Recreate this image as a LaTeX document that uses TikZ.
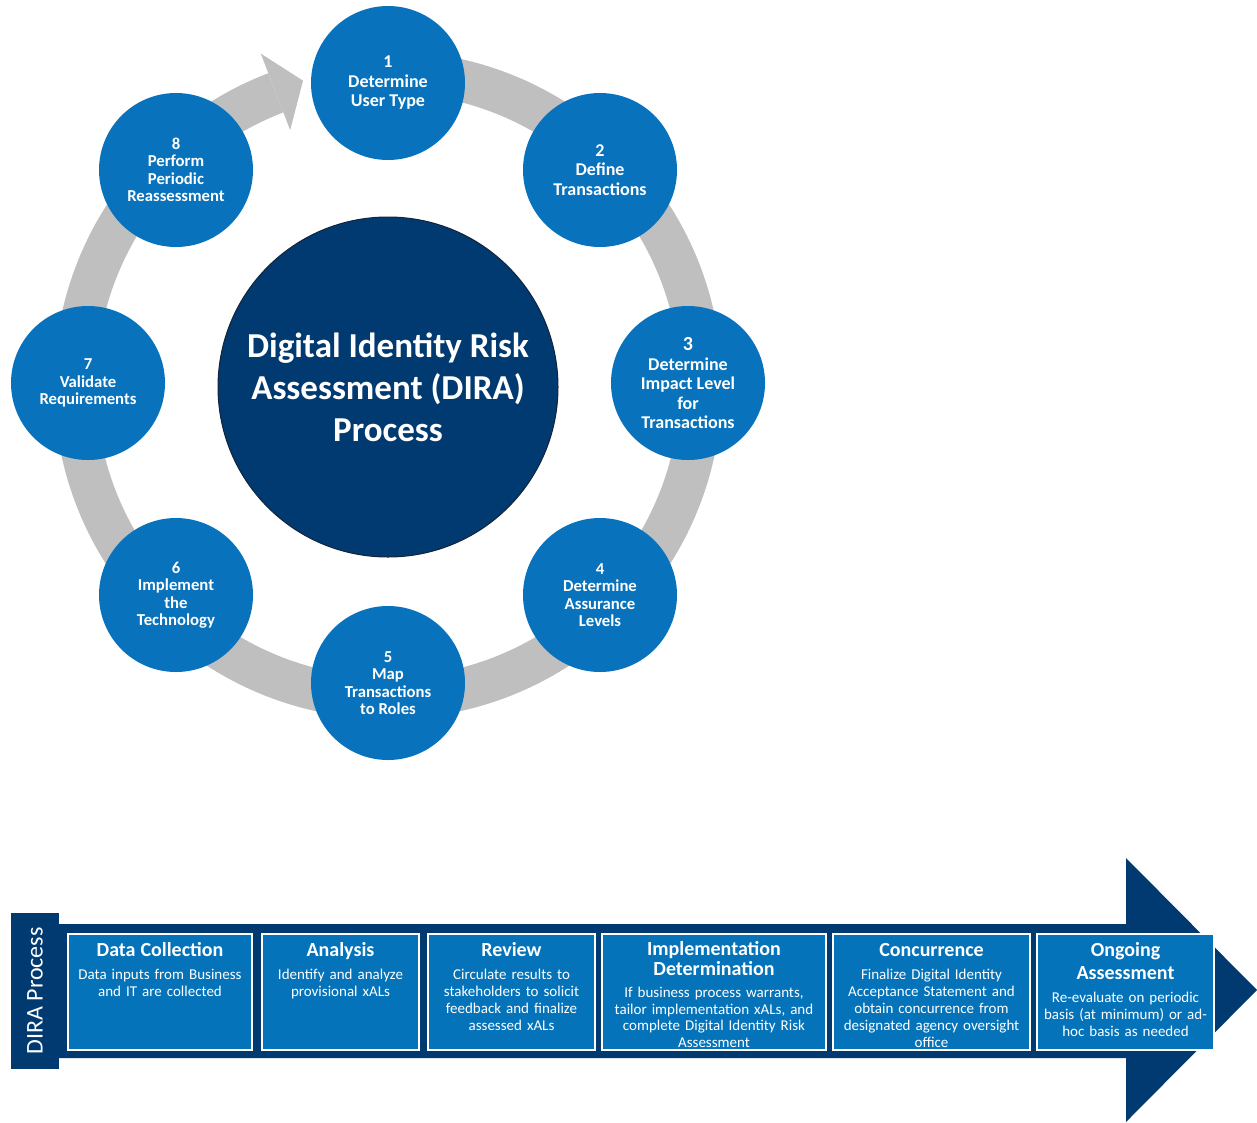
\documentclass[tikz,border=0pt]{standalone}
\usepackage{fontspec}
\setmainfont{Carlito}
\usepackage{xcolor}
\usepackage{tikz}
\usetikzlibrary{calc}

\definecolor{stageblue}{RGB}{8,114,188}
\definecolor{hubnavy}{RGB}{0,58,112}
\definecolor{hubedge}{RGB}{20,35,60}
\definecolor{ringgray}{RGB}{191,191,191}
\definecolor{boxblue}{RGB}{4,115,186}
\definecolor{arrownavy}{RGB}{0,58,112}

\newcommand{\phasetitle}[2][20]{{\fontsize{20}{#1}\selectfont\bfseries #2\par}\vspace{6pt}}

\begin{document}
\begin{tikzpicture}[x=1pt,y=-1pt,
                    stage node/.style={circle,fill=stageblue,minimum size=154pt,inner sep=0pt,text=white,align=center,font=\fontsize{18}{19.5}\selectfont\bfseries},
                    small stage/.style={stage node,font=\fontsize{16.7}{17.5}\selectfont\bfseries},
                    hub node/.style={circle,fill=hubnavy,draw=hubedge,line width=1pt,minimum size=340pt,inner sep=0pt,text=white,align=center,font=\fontsize{35}{42}\selectfont\bfseries},
                    ring/.style={draw=ringgray,line width=42pt},
                    tab node/.style={rectangle,fill=arrownavy,rotate=90,minimum width=156pt,minimum height=48pt,inner sep=0pt,text=white,font=\fontsize{24}{24}\selectfont},
                    phase node/.style={rectangle,fill=boxblue,draw=white,line width=2.5pt,minimum height=116pt,inner sep=0pt},
                    phase text/.style={anchor=base,align=center,inner sep=0pt,text=white,font=\fontsize{15}{17}\selectfont}]

 \useasboundingbox (0,0) rectangle (1257,1122);

 \coordinate (centre) at (388,385);

 \draw[ring] ($(centre)+(90:313pt)$) arc[start angle=90,end angle=-249,radius=313pt];
 \fill[ringgray] ($(centre)+(111:355pt)$) -- ($(centre)+(105.6:316pt)$) -- ($(centre)+(111:273pt)$) -- cycle;

 \node[hub node] (hub) at (388,387) {Digital Identity Risk\\Assessment (DIRA)\\Process};

 \node[stage node] (1) at (388,83) {1\\Determine\\User Type};

 \node[stage node] (2) at (600,170) {2\\Define\\Transactions};

 \node[stage node] (3) at (688,383) {{\fontsize{20}{20}\selectfont 3}\\Determine\\Impact Level\\for\\Transactions};

 \node[small stage] (4) at (600,595) {4\\Determine\\Assurance\\Levels};

 \node[small stage] (5) at (388,683) {5\\Map\\Transactions\\to Roles};

 \node[small stage] (6) at (176,595) {6\\Implement\\the\\Technology};

 \node[small stage] (7) at (88,383) {7\\Validate\\Requirements};

 \node[small stage] (8) at (176,170) {8\\Perform\\Periodic\\Reassessment};

 \fill[arrownavy] (59,924) -- (1126,924) -- (1126,858) -- (1257,990) -- (1126,1122) -- (1126,1058) -- (59,1058) -- cycle;

 \node[tab node] (tab) at (35,991) {DIRA Process};

 \node[phase node,minimum width=184pt] (phase1) at (160,992) {};
 \node[phase node,minimum width=157pt] (phase2) at (340.5,992) {};
 \node[phase node,minimum width=167pt] (phase3) at (511.5,992) {};
 \node[phase node,minimum width=224pt] (phase4) at (714,992) {};
 \node[phase node,minimum width=197pt] (phase5) at (931.5,992) {};
 \node[phase node,minimum width=177pt] (phase6) at (1125.5,992) {};

 \node[phase text,text width=180pt] (label1) at (160,956) {\phasetitle{Data Collection}Data inputs from Business\\and IT are collected};

 \node[phase text,text width=153pt] (label2) at (340.5,956) {\phasetitle{Analysis}Identify and analyze\\provisional xALs};

 \node[phase text,text width=163pt] (label3) at (511.5,956) {\phasetitle{Review}Circulate results to\\stakeholders to solicit\\feedback and finalize\\assessed xALs};

 \node[phase text,text width=220pt,font=\fontsize{15}{16.6}\selectfont] (label4) at (714,955) {\phasetitle{Implementation\\Determination}If business process warrants,\\tailor implementation xALs, and\\complete Digital Identity Risk\\Assessment};

 \node[phase text,text width=193pt] (label5) at (931.5,956) {\phasetitle{Concurrence}Finalize Digital Identity\\Acceptance Statement and\\obtain concurrence from\\designated agency oversight\\office};

 \node[phase text,text width=173pt] (label6) at (1125.5,956) {\phasetitle[23]{Ongoing\\Assessment}Re-evaluate on periodic\\basis (at minimum) or ad-\\hoc basis as needed};

\end{tikzpicture}
\end{document}
